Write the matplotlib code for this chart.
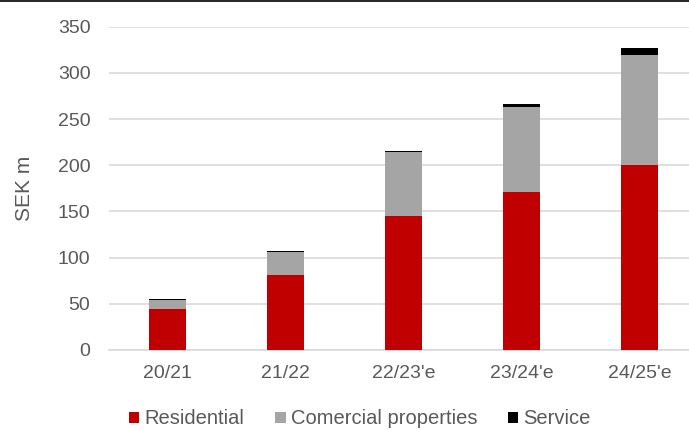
import matplotlib
matplotlib.use("Agg")
import matplotlib.pyplot as plt
from matplotlib.patches import Patch
from matplotlib.lines import Line2D

plt.rcParams['font.family'] = ['Liberation Sans', 'DejaVu Sans']

years = ["20/21", "21/22", "22/23'e", "23/24'e", "24/25'e"]
residential = [44, 81, 145, 171, 200]
commercial = [10, 25, 69, 92, 119]
service = [1, 1.5, 1.5, 3, 8]

series_names = ["Residential", "Comercial properties", "Service"]
colors = ["#C00000", "#A5A5A5", "#000000"]
text_color = "#595959"

fig = plt.figure(figsize=(6.89, 4.30), dpi=100)
W, H = 689, 430
left, right = 108.5, 698.5
bottom, top = 350, 26.7
ax = fig.add_axes([left / W, (H - bottom) / H, (right - left) / W, (bottom - top) / H])

x = range(len(years))
width = 0.315
bottoms = [0] * len(years)
for vals, col in zip([residential, commercial, service], colors):
    ax.bar(x, vals, width, bottom=bottoms, color=col, zorder=3)
    bottoms = [b + v for b, v in zip(bottoms, vals)]

ax.set_xlim(-0.5, len(years) - 0.5)
ax.set_ylim(0, 350)
ax.set_yticks(range(0, 351, 50))
ax.set_xticks(list(x))
ax.set_xticklabels(years)
ax.yaxis.grid(True, color="#D9D9D9", linewidth=1.2, zorder=0)
ax.set_axisbelow(True)
for s in ["top", "right", "left"]:
    ax.spines[s].set_visible(False)
ax.spines["bottom"].set_color("#D9D9D9")
ax.spines["bottom"].set_linewidth(1.2)
ax.tick_params(axis="both", length=0, labelsize=14, colors=text_color)
ax.tick_params(axis="y", pad=13)
ax.tick_params(axis="x", pad=11)
ax.set_ylabel("SEK m", fontsize=15, color=text_color, labelpad=17)

handles = [Patch(facecolor=c, edgecolor="none") for c in colors]
fig.legend(handles, series_names, loc="center", ncol=3, frameon=False,
           bbox_to_anchor=(360 / W, (H - 419) / H), fontsize=14.5,
           handlelength=0.5, handleheight=0.5, handletextpad=0.25,
           columnspacing=1.55, labelcolor=text_color)

fig.add_artist(Line2D([0, 1], [1 - 0.5 / H, 1 - 0.5 / H], color="black", linewidth=1.2,
                      transform=fig.transFigure))

fig.savefig("out.png", dpi=100)
